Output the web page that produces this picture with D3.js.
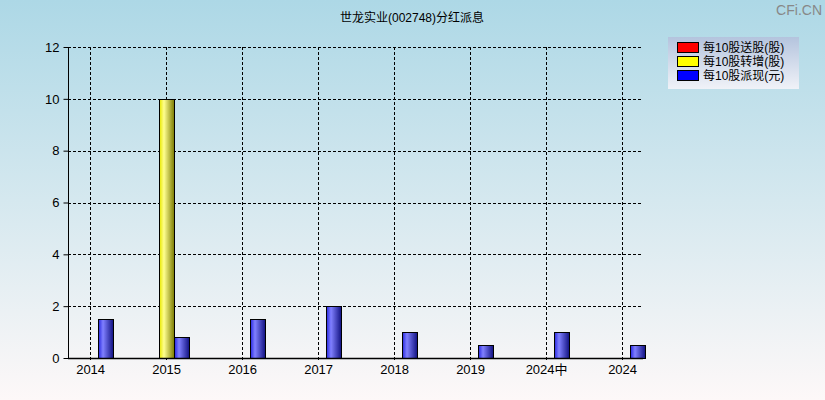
<!DOCTYPE html>
<html><head><meta charset="utf-8">
<script src="https://cdn.jsdelivr.net/npm/d3@7"></script>
<style>body{margin:0;padding:0;overflow:hidden}svg{display:block}</style>
</head><body>
<script>
const categories = ["2014","2015","2016","2017","2018","2019","2024中","2024"];
const songgu = [0,0,0,0,0,0,0,0];
const zhuanzeng = [0,10,0,0,0,0,0,0];
const paixian = [1.5,0.8,1.5,2,1,0.5,1,0.5];
const yTicks = [0,2,4,6,8,10,12];
const seriesNames = ["每10股送股(股)","每10股转增(股)","每10股派现(元)"];
const title = "世龙实业(002748)分红派息";

(function(){
const W=825,H=400;
const font = "'Liberation Sans','Noto Sans CJK SC',sans-serif";
const svg = d3.select("body").append("svg").attr("width",W).attr("height",H);
const defs = svg.append("defs");
const bg = defs.append("linearGradient").attr("id","bg").attr("x1",0).attr("y1",0).attr("x2",0).attr("y2",1);
bg.append("stop").attr("offset","0%").attr("stop-color","#add8e6");
bg.append("stop").attr("offset","100%").attr("stop-color","#fdf8f8");
const lg = defs.append("linearGradient").attr("id","lg").attr("x1",0).attr("y1",0).attr("x2",0).attr("y2",1);
lg.append("stop").attr("offset","0%").attr("stop-color","#b4c4de");
lg.append("stop").attr("offset","100%").attr("stop-color","#f0f2f8");
function barGrad(id, c0, c1, c2){
  const g = defs.append("linearGradient").attr("id",id).attr("x1",0).attr("y1",0).attr("x2",1).attr("y2",0);
  g.append("stop").attr("offset","0%").attr("stop-color",c0);
  g.append("stop").attr("offset","30%").attr("stop-color",c1);
  g.append("stop").attr("offset","100%").attr("stop-color",c2);
}
barGrad("gr","#e00000","#ff8080","#800000");
barGrad("gy","#e8e800","#ffff90","#7a7a00");
barGrad("gb","#2828e0","#8080ff","#101080");

svg.append("rect").attr("width",W).attr("height",H).attr("fill","url(#bg)");

const pl=68,pr=643,pt=47,pb=358;
const x = d3.scalePoint().domain(categories).range([pl+0.6,pr+0.6]).padding(0.283);
const y = d3.scaleLinear().domain([0,12]).range([pb,pt]);

// grid
const g = svg.append("g");
g.selectAll(".hg").data(yTicks.filter(d=>d>0)).join("line")
  .attr("x1",pl).attr("x2",pr).attr("y1",d=>Math.round(y(d))+0.5).attr("y2",d=>Math.round(y(d))+0.5)
  .attr("stroke","#000").attr("stroke-dasharray","3,2");
g.selectAll(".vg").data(categories).join("line")
  .attr("x1",d=>Math.round(x(d))+0.5).attr("x2",d=>Math.round(x(d))+0.5).attr("y1",pt).attr("y2",pb+4)
  .attr("stroke","#000").attr("stroke-dasharray","3,2");

// bars
const bw = 15;
const series = [{v:songgu,f:"url(#gr)",o:-22.5},{v:zhuanzeng,f:"url(#gy)",o:-7.5},{v:paixian,f:"url(#gb)",o:7.5}];
series.forEach(s=>{
  svg.append("g").selectAll("rect").data(categories.map((c,i)=>({c,v:s.v[i]})).filter(d=>d.v>0)).join("rect")
    .attr("x",d=>Math.round(x(d.c)+s.o)+0.5).attr("y",d=>Math.round(y(d.v))+0.5)
    .attr("width",bw).attr("height",d=>Math.round(y(0))-Math.round(y(d.v)))
    .attr("fill",s.f).attr("stroke","#000").attr("stroke-width",1);
});

// axes
const ya = svg.append("g").attr("transform",`translate(${pl+0.5},0)`)
  .call(d3.axisLeft(y).tickValues(yTicks).tickSize(5).tickPadding(4).tickFormat(d3.format("d")));
ya.select(".domain").attr("d",`M0,${pt}V${pb}`);
ya.selectAll("text").attr("font-family",font).attr("font-size",13).attr("fill","#000");
const xa = svg.append("g").attr("transform",`translate(0,${pb+0.5})`)
  .call(d3.axisBottom(x).tickSize(0).tickPadding(6));
xa.select(".domain").attr("d",`M${pl},0H${pr}`).attr("stroke-width",1.5);
xa.selectAll("text").attr("font-family",font).attr("font-size",13).attr("fill","#000");

// title
svg.append("text").attr("x",412).attr("y",22).attr("text-anchor","middle")
  .attr("font-family",font).attr("font-size",12).attr("fill","#000").text(title);
svg.append("text").attr("x",822).attr("y",15).attr("text-anchor","end")
  .attr("font-family",font).attr("font-size",14).attr("fill","#888").text("CFi.CN");

// legend
const lgG = svg.append("g").attr("transform","translate(668,37)");
lgG.append("rect").attr("width",131).attr("height",52).attr("fill","url(#lg)");
const swatch=["#ff0000","#ffff00","#0000ff"];
seriesNames.forEach((n,i)=>{
  lgG.append("rect").attr("x",9.5).attr("y",5.5+i*14).attr("width",21).attr("height",10).attr("fill",swatch[i]).attr("stroke","#000");
  lgG.append("text").attr("x",35).attr("y",15+i*14).attr("font-family",font).attr("font-size",12).attr("fill","#000").text(n);
});
})();
</script>
</body></html>
